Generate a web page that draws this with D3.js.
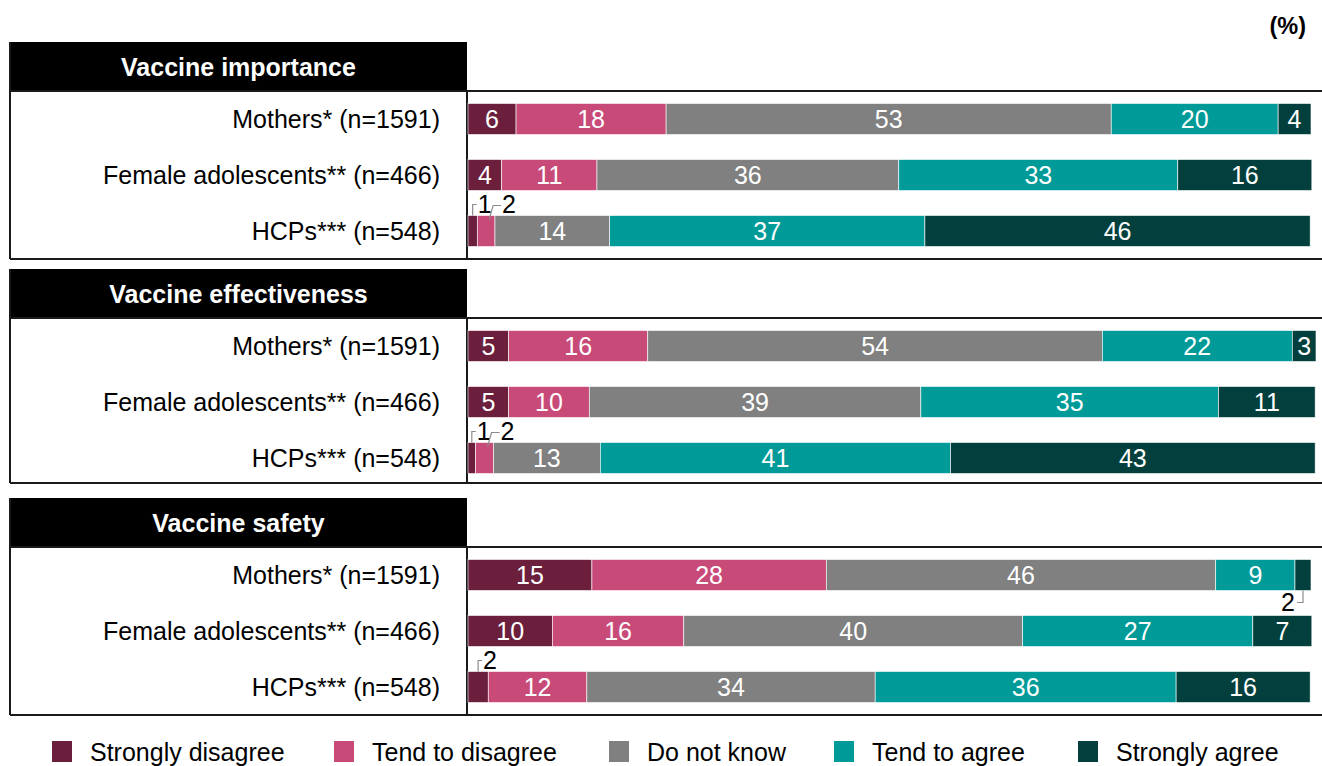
<!DOCTYPE html>
<html>
<head>
<meta charset="utf-8">
<script src="https://cdn.jsdelivr.net/npm/d3@7"></script>
<style>
  html, body { margin: 0; padding: 0; background: #fff; }
  svg { display: block; font-family: "Liberation Sans", Arial, sans-serif; }
</style>
</head>
<body>
<svg id="chart" width="1322" height="766"></svg>
<script>
// ---- data ----
const groups = ["Vaccine importance", "Vaccine effectiveness", "Vaccine safety"];
const respondents = ["Mothers* (n=1591)", "Female adolescents** (n=466)", "HCPs*** (n=548)"];
const categories = ["Strongly disagree", "Tend to disagree", "Do not know", "Tend to agree", "Strongly agree"];
const importanceValues = [
  [5.7, 17.8, 52.8, 19.8, 3.9],
  [4.0, 11.3, 35.8, 33.1, 15.9],
  [1.1, 2.1, 13.6, 37.4, 45.7]
];
const effectivenessValues = [
  [4.8, 16.4, 53.6, 22.4, 2.8],
  [4.8, 9.5, 39.1, 35.1, 11.4],
  [0.9, 2.1, 12.6, 41.3, 43.0]
];
const safetyValues = [
  [14.7, 27.8, 46.2, 9.4, 1.9],
  [10.0, 15.6, 40.2, 27.3, 7.0],
  [2.4, 11.7, 34.2, 35.7, 15.9]
];
const colors = ["#6b1f3d", "#c84a78", "#808080", "#009b98", "#03403d"];

// ---- layout ----
const W = 1322, H = 766;
const panelValues = [importanceValues, effectivenessValues, safetyValues];
const panelTops = [42, 269, 498];
const panelBottoms = [259, 483, 715];
const headerH = 49;
const frameLeft = 10, divider = 467;
const panelRight = [1311, 1316, 1311];
const barH = 31;
const fs = 25;

const svg = d3.select("#chart");
const color = d3.scaleOrdinal().domain(categories).range(colors);

svg.append("text")
  .attr("x", 1306).attr("y", 34)
  .attr("text-anchor", "end")
  .attr("font-size", 23.5).attr("font-weight", "bold")
  .text("(%)");

groups.forEach((g, pi) => {
  const top = panelTops[pi];
  const hb = top + headerH;
  const bottom = panelBottoms[pi];
  const gp = svg.append("g");

  // header box
  gp.append("rect")
    .attr("x", frameLeft).attr("y", top)
    .attr("width", divider - frameLeft).attr("height", headerH)
    .attr("fill", "#000");
  gp.append("text")
    .attr("x", (frameLeft + divider) / 2).attr("y", top + headerH / 2 + 9)
    .attr("text-anchor", "middle")
    .attr("fill", "#fff").attr("font-size", 25).attr("font-weight", "bold")
    .text(g);

  // frame
  const line = (x1, y1, x2, y2) => gp.append("line")
    .attr("x1", x1).attr("y1", y1).attr("x2", x2).attr("y2", y2)
    .attr("stroke", "#1a1a1a").attr("stroke-width", 2);
  line(frameLeft, hb, W, hb);
  line(frameLeft, bottom, W, bottom);
  line(frameLeft, top, frameLeft, bottom);
  line(divider, hb, divider, bottom);

  const x = d3.scaleLinear().domain([0, 100]).range([divider + 1, panelRight[pi]]);
  const y = d3.scalePoint().domain(respondents).range([hb + 28, hb + 140]);

  const rows = panelValues[pi];
  respondents.forEach((r, ri) => {
    const cy = y(r);
    gp.append("text")
      .attr("x", 440).attr("y", cy + 8.5)
      .attr("text-anchor", "end")
      .attr("font-size", fs).attr("fill", "#000")
      .text(r);

    const vals = rows[ri];
    let cum = 0;
    const segs = vals.map((v, ci) => {
      const s = { v, ci, x0: cum, x1: cum + v };
      cum += v;
      return s;
    });

    const rg = gp.append("g");
    rg.selectAll("rect").data(segs).join("rect")
      .attr("x", d => x(d.x0))
      .attr("y", cy - barH / 2)
      .attr("width", d => x(d.x1) - x(d.x0))
      .attr("height", barH)
      .attr("fill", d => color(categories[d.ci]))
      .attr("stroke", "#ffffff").attr("stroke-width", 0.6);

    rg.selectAll("text.in").data(segs.filter(d => d.v >= 2.5)).join("text")
      .attr("class", "in")
      .attr("x", d => (x(d.x0) + x(d.x1)) / 2)
      .attr("y", cy + 8.5)
      .attr("text-anchor", "middle")
      .attr("fill", "#fff").attr("font-size", fs)
      .text(d => Math.round(d.v));

    // callouts for small segments
    let prevSmall = false;
    segs.forEach(d => {
      if (d.v >= 2.5) { prevSmall = false; return; }
      const cx = (x(d.x0) + x(d.x1)) / 2;
      const barTop = cy - barH / 2, barBot = cy + barH / 2;
      const lbl = Math.round(d.v);
      let pts, tx, ty, anchor;
      if (d.ci === categories.length - 1) {
        pts = [[cx, barBot], [cx, barBot + 12], [cx - 6, barBot + 12]];
        tx = cx - 8; ty = barBot + 20; anchor = "end";
      } else if (prevSmall) {
        pts = [[cx + 3, barTop + 4], [cx + 7, barTop - 10], [cx + 15, barTop - 10]];
        tx = cx + 16; ty = barTop - 3; anchor = "start";
      } else {
        pts = [[cx, barTop], [cx, barTop - 11], [cx + 4, barTop - 11]];
        tx = cx + 5; ty = barTop - 3; anchor = "start";
      }
      prevSmall = true;
      gp.append("path")
        .attr("d", d3.line()(pts))
        .attr("fill", "none").attr("stroke", "#8c8c8c").attr("stroke-width", 1.2);
      gp.append("text")
        .attr("x", tx).attr("y", ty)
        .attr("text-anchor", anchor)
        .attr("font-size", fs).attr("fill", "#000")
        .text(lbl);
    });
  });
});

// legend
const legendX = [52, 334, 609, 834, 1078];
const lg = svg.append("g");
categories.forEach((c, i) => {
  lg.append("rect")
    .attr("x", legendX[i]).attr("y", 741)
    .attr("width", 20).attr("height", 21)
    .attr("fill", color(c));
  lg.append("text")
    .attr("x", legendX[i] + 38).attr("y", 761)
    .attr("font-size", 25).attr("fill", "#000")
    .text(c);
});
</script>
</body>
</html>
